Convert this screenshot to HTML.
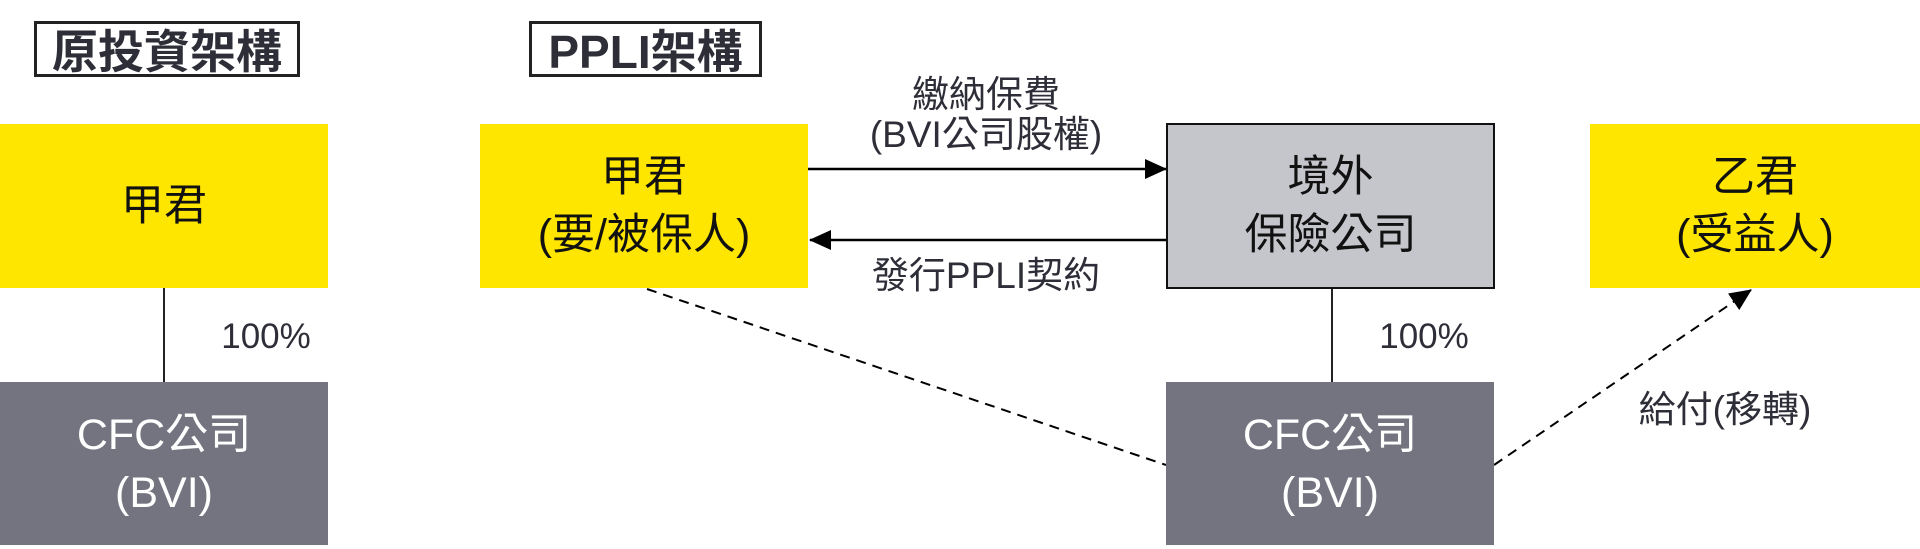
<!DOCTYPE html>
<html><head><meta charset="utf-8"><style>
body{margin:0;width:1920px;height:549px;background:#fff;overflow:hidden;position:relative;font-family:"Liberation Sans","Noto Sans CJK TC",sans-serif;}
.b{position:absolute;display:flex;flex-direction:column;align-items:center;justify-content:center;text-align:center;font-size:43px;line-height:58px;box-sizing:border-box;}
.y{background:#ffe600;color:#111;}
.g{background:#747480;color:#fff;}
.t{position:absolute;border:3px solid #222;box-sizing:border-box;font-size:46px;font-weight:bold;color:#2e2e38;display:flex;align-items:center;justify-content:center;white-space:nowrap;}
.l{position:absolute;font-size:37px;color:#2e2e38;text-align:center;line-height:40px;white-space:nowrap;}
</style></head><body>
<div class="t" style="left:34px;top:21px;width:266px;height:56px;">原投資架構</div>
<div class="t" style="left:529px;top:21px;width:233px;height:56px;">PPLI架構</div>
<svg style="position:absolute;left:0;top:0" width="1920" height="549">
<defs><marker id="m" markerWidth="22" markerHeight="20" refX="21" refY="10" orient="auto" markerUnits="userSpaceOnUse"><path d="M0,0L22,10L0,20z" fill="#000"/></marker></defs>
<line x1="164" y1="288" x2="164" y2="382" stroke="#222" stroke-width="2"/>
<line x1="1332" y1="289" x2="1332" y2="382" stroke="#222" stroke-width="2"/>
<line x1="808" y1="169" x2="1166" y2="169" stroke="#000" stroke-width="2.5" marker-end="url(#m)"/>
<line x1="1166" y1="240" x2="810" y2="240" stroke="#000" stroke-width="2.5" marker-end="url(#m)"/>
<line x1="647" y1="289" x2="1166" y2="465" stroke="#000" stroke-width="2" stroke-dasharray="10,7"/>
<line x1="1494" y1="465" x2="1751" y2="290" stroke="#000" stroke-width="2" stroke-dasharray="10,7" marker-end="url(#m)"/>
</svg>
<div class="b y" style="left:0;top:124px;width:328px;height:164px;">甲君</div>
<div class="b g" style="left:0;top:382px;width:328px;height:163px;">CFC公司<br>(BVI)</div>
<div class="l" style="left:206px;top:317px;width:120px;font-size:35px;">100%</div>
<div class="b y" style="left:480px;top:124px;width:328px;height:164px;">甲君<br>(要/被保人)</div>
<div class="b" style="left:1166px;top:123px;width:329px;height:166px;background:#c5c5cc;border:2px solid #111;color:#111;">境外<br>保險公司</div>
<div class="b y" style="left:1590px;top:124px;width:330px;height:164px;">乙君<br>(受益人)</div>
<div class="b g" style="left:1166px;top:382px;width:328px;height:163px;">CFC公司<br>(BVI)</div>
<div class="l" style="left:1364px;top:317px;width:120px;font-size:35px;">100%</div>
<div class="l" style="left:836px;top:75px;width:300px;">繳納保費<br>(BVI公司股權)</div>
<div class="l" style="left:836px;top:256px;width:300px;">發行PPLI契約</div>
<div class="l" style="left:1620px;top:390px;width:210px;">給付(移轉)</div>
</body></html>
